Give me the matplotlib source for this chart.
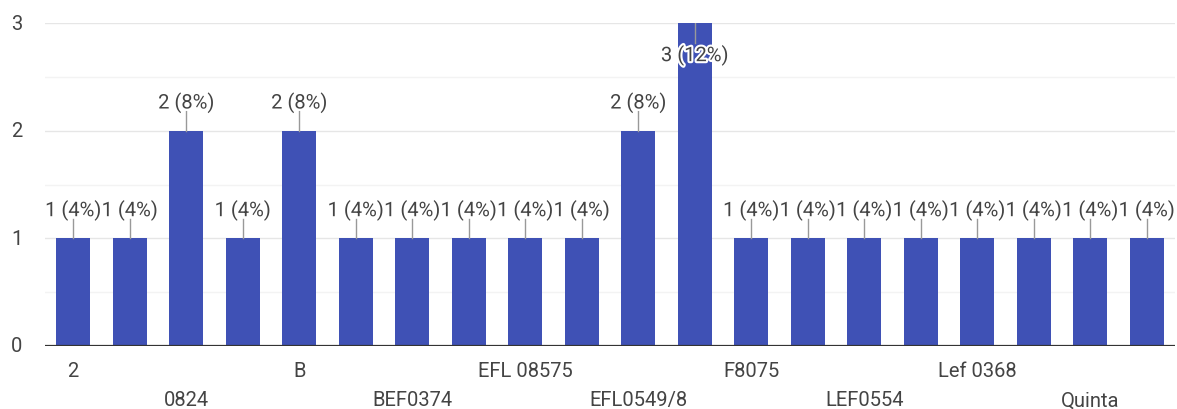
import matplotlib
matplotlib.use("Agg")
import matplotlib.pyplot as plt
import matplotlib.patheffects as pe
import matplotlib.transforms as mtransforms
import numpy as np

# responses per answer (only every other category name is printed on the axis)
categories = ["2", "", "0824", "", "B", "", "BEF0374", "", "EFL 08575", "",
              "EFL0549/8", "", "F8075", "", "LEF0554", "", "Lef 0368", "", "Quinta", ""]
counts = [1, 1, 2, 1, 2, 1, 1, 1, 1, 1, 2, 3, 1, 1, 1, 1, 1, 1, 1, 1]
yticks = [0, 1, 2, 3]

total = sum(counts)
bar_color = "#3f51b5"
text_color = "#444444"
fsize = 14.5

plt.rcParams["font.family"] = ["Roboto", "DejaVu Sans"]

fig = plt.figure(figsize=(11.77, 4.10), dpi=100)
ax = fig.add_axes([45 / 1177, 63 / 410, 1130 / 1177, 323 / 410])

x = np.arange(len(counts))
ax.bar(x, counts, width=0.6, color=bar_color, zorder=3)

ax.set_xlim(-0.5, len(counts) - 0.5)
ax.set_ylim(0, 3)

# grid: major at whole numbers, faint minor lines at halves
for v in np.arange(0.5, 3, 1.0):
    ax.axhline(v, color="#f3f3f3", lw=1, zorder=1)
for v in yticks[1:]:
    ax.axhline(v, color="#e6e6e6", lw=1, zorder=1)
ax.axhline(0, color="#333333", lw=1.6, zorder=4)

for s in ax.spines.values():
    s.set_visible(False)
ax.set_xticks([])
ax.set_yticks([])

# y tick labels
ytrans = mtransforms.blended_transform_factory(ax.transAxes, ax.transData)
for v in yticks:
    ax.text(-28 / 1130, v, str(v), transform=ytrans,
            ha="center", va="center", fontsize=fsize, color=text_color)

# staggered category labels
trans = mtransforms.blended_transform_factory(ax.transData, ax.transAxes)
row = 0
for i, name in enumerate(categories):
    if not name:
        continue
    ypos = -25 / 323 if row == 0 else -54 / 323
    ax.text(i, ypos, name, transform=trans, ha="center", va="center",
            fontsize=fsize, color=text_color)
    row = 1 - row

# value annotations with stems
halo = [pe.withStroke(linewidth=3, foreground="white")]
for i, v in enumerate(counts):
    label = f"{v} ({round(100 * v / total)}%)"
    if v + 0.3 <= 3:
        ty = v + 0.26
        ax.plot([i, i], [v, v + 0.18], color="#999999", lw=1, zorder=4)
    else:
        ty = v - 0.3
        ax.plot([i, i], [v, v - 0.19], color="#999999", lw=1, zorder=4)
    ax.text(i, ty, label, ha="center", va="center", fontsize=fsize,
            color=text_color, zorder=5, path_effects=halo)

fig.savefig("out.png", dpi=100)
